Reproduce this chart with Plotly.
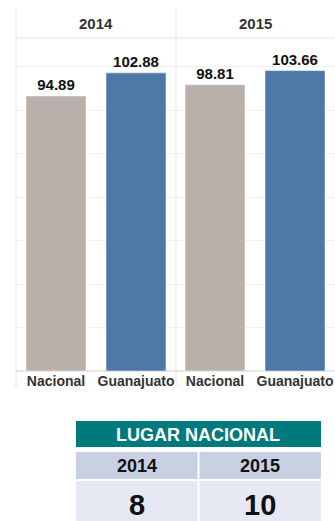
import plotly.graph_objects as go

years = ["2014", "2015"]
categories = ["Nacional", "Guanajuato"]
values = {"2014": [94.89, 102.88], "2015": [98.81, 103.66]}
ranks = [8, 10]
table_title = "LUGAR NACIONAL"
bar_colors = ["#bab0ab", "#4e79a7"]

W, H = 335, 521
def py(p):
    return 1 - p / H
def px(p):
    return min(max(p / W, 0), 1)

fig = go.Figure()
FONT = "Liberation Sans, Arial, sans-serif"

panel_x = [(16, 176), (175, 335)]
for i, yr in enumerate(years):
    xa = "x" if i == 0 else "x2"
    ya = "y" if i == 0 else "y2"
    fig.add_trace(go.Bar(
        x=categories, y=values[yr], xaxis=xa, yaxis=ya,
        marker=dict(color=bar_colors, line=dict(color="rgba(255,255,255,0.5)", width=1)),
        text=[f"{v:.2f}" for v in values[yr]], textposition="outside",
        textfont=dict(family=FONT, size=15, color="#111", weight="bold"),
        cliponaxis=False, showlegend=False, hoverinfo="skip",
    ))
    fig.add_annotation(text=f"<b>{yr}</b>", xref="paper", yref="paper",
                       x=px((panel_x[i][0] + panel_x[i][1]) / 2), y=py(23),
                       xanchor="center", yanchor="middle",
                       showarrow=False, font=dict(family=FONT, size=15, color="#333"))

axis_common = dict(type="category", showgrid=False, zeroline=False, showline=False,
                   ticks="", tickfont=dict(family=FONT, size=14, color="#333", weight="bold"),
                   fixedrange=True)
yaxis_common = dict(range=[0, 114.9], dtick=15, showgrid=True, gridcolor="#f0f0f0", gridwidth=1,
                    zeroline=True, zerolinecolor="#e8e8e8", showticklabels=False, showline=False,
                    fixedrange=True)
fig.update_layout(
    width=W, height=H, margin=dict(l=0, r=0, t=0, b=0),
    paper_bgcolor="white", plot_bgcolor="white", bargap=0.25,
    xaxis=dict(domain=[px(16), px(176)], anchor="y", **axis_common),
    xaxis2=dict(domain=[px(175), px(335)], anchor="y2", **axis_common),
    yaxis=dict(domain=[py(371), py(38)], anchor="x", **yaxis_common),
    yaxis2=dict(domain=[py(371), py(38)], anchor="x2", **yaxis_common),
)

# panel frame lines
for xv in [16, 176]:
    fig.add_shape(type="line", xref="paper", yref="paper", x0=px(xv), x1=px(xv),
                  y0=py(9), y1=py(388), line=dict(color="#e6e6e6", width=1))
fig.add_shape(type="line", xref="paper", yref="paper", x0=px(16), x1=1,
              y0=py(38), y1=py(38), line=dict(color="#e6e6e6", width=1))

# ranking table
T_X0, T_X1 = 76, 321
fig.add_shape(type="rect", xref="paper", yref="paper", x0=px(T_X0), x1=px(T_X1),
              y0=py(447), y1=py(421), fillcolor="#007a7c", line=dict(width=0), layer="below")
fig.add_annotation(text=f"<b>{table_title}</b>", xref="paper", yref="paper",
                   x=px((T_X0 + T_X1) / 2), y=py(434.5), xanchor="center", yanchor="middle",
                   showarrow=False, font=dict(family=FONT, size=18, color="white"))

ncol = len(years)
colw = (T_X1 - T_X0) / ncol
for i, (yr, r) in enumerate(zip(years, ranks)):
    cx0 = T_X0 + i * colw + (1 if i > 0 else 0)
    cx1 = T_X0 + (i + 1) * colw - (1 if i < ncol - 1 else 0)
    fig.add_shape(type="rect", xref="paper", yref="paper", x0=px(cx0), x1=px(cx1),
                  y0=py(479), y1=py(452), fillcolor="#c8d0e4", line=dict(width=0), layer="below")
    fig.add_shape(type="rect", xref="paper", yref="paper", x0=px(cx0), x1=px(cx1),
                  y0=py(522), y1=py(481), fillcolor="#e6e8f4", line=dict(width=0), layer="below")
    fig.add_annotation(text=f"<b>{yr}</b>", xref="paper", yref="paper",
                       x=px((cx0 + cx1) / 2), y=py(466), xanchor="center", yanchor="middle",
                       showarrow=False, font=dict(family=FONT, size=18, color="#111"))
    fig.add_annotation(text=f"<b>{r}</b>", xref="paper", yref="paper",
                       x=px((cx0 + cx1) / 2), y=py(505), xanchor="center", yanchor="middle",
                       showarrow=False, font=dict(family=FONT, size=29, color="#111"))

fig.write_html("out.html", config={"displayModeBar": False},
               post_script="document.body.style.margin='0';document.body.style.overflow='hidden';")
